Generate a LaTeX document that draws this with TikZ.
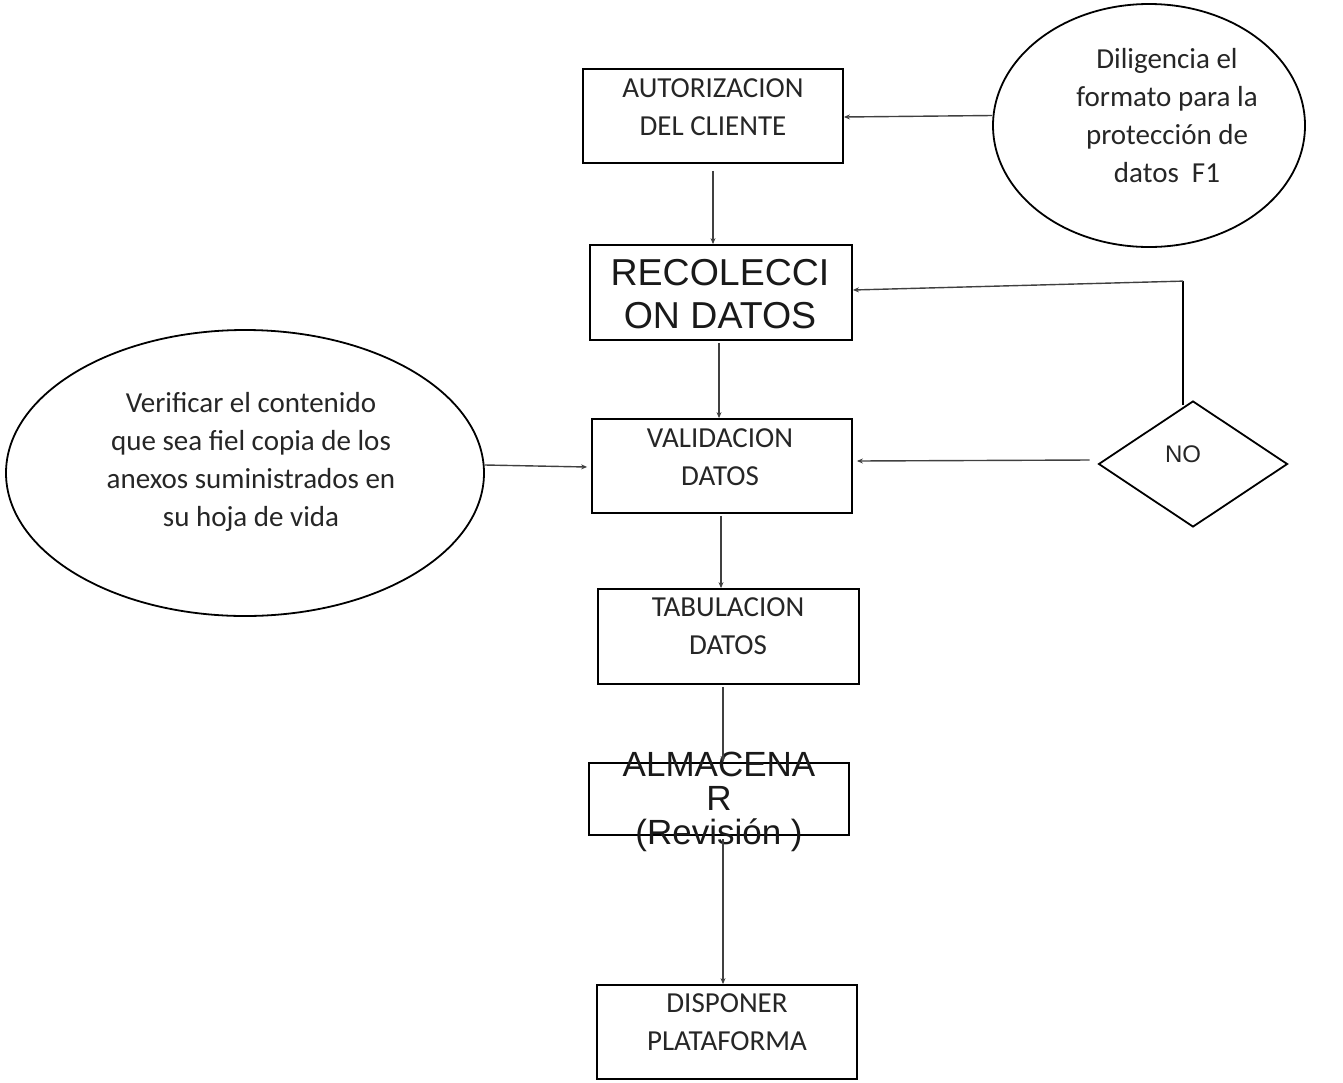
\documentclass[tikz,border=0pt]{standalone}
\usepackage{fontspec}
\setmainfont{Carlito}
\newfontfamily\arialf{Liberation Sans}
\usetikzlibrary{shapes.geometric,arrows.meta}
\begin{document}
\begin{tikzpicture}[x=1pt,y=-1pt,
  box/.style={draw, line width=1.8pt, rectangle, minimum width=260pt, minimum height=94pt, inner sep=0pt},
  lbl/.style={font=\fontsize{29}{38}\selectfont, align=center, inner sep=0pt, text=black!85},
  big/.style={font=\arialf\fontsize{37.5}{43}\selectfont, align=center, inner sep=0pt, text=black!90},
  mid/.style={font=\arialf\fontsize{35}{34}\selectfont, align=center, inner sep=0pt, text=black!90},
  con/.style={draw=black!75, line width=1.4pt, -{Stealth[length=6pt,width=5pt]}},
  oval/.style={draw, ellipse, line width=1.8pt, inner sep=0pt},
  dia/.style={draw, diamond, line width=1.8pt, inner sep=0pt}]
\useasboundingbox (0,0) rectangle (1343,1082);

% boxes
\node[box] (aut) at (713,116) {};
\node[box, minimum width=262pt, minimum height=95pt] (rec) at (721,292.5) {};
\node[box] (val) at (722,466) {};
\node[box, minimum width=261pt, minimum height=95pt] (tab) at (728.5,636.5) {};
\node[box, minimum height=72pt] (alm) at (719,799) {};
\node[box] (dis) at (727,1032) {};

% ovals and decision
\node[oval, minimum width=312pt, minimum height=243pt] (el1) at (1149,125.5) {};
\node[oval, minimum width=478pt, minimum height=286pt] (el2) at (245,473) {};
\node[dia, minimum width=189pt, minimum height=126pt] (no) at (1193,464) {};

% texts
\node[lbl] (tAut) at (713,107) {AUTORIZACION\\DEL CLIENTE};
\node[big] (tRec) at (720,294) {RECOLECCI\\ON DATOS};
\node[lbl] (tVal) at (720,457) {VALIDACION\\DATOS};
\node[lbl] (tTab) at (728,626) {TABULACION\\DATOS};
\node[mid] (tAlm) at (719,802) {ALMACENA\\R\\(Revisión )};
\node[lbl] (tDis) at (727,1022) {DISPONER\\PLATAFORMA};
\node[lbl] (tEl1) at (1167,116) {Diligencia el\\formato para la\\protección de\\datos~ F1};
\node[lbl] (tEl2) at (251,462) {Verificar el contenido\\que sea fiel copia de los\\anexos suministrados en\\su hoja de vida};
\node[font=\arialf\fontsize{24}{28}\selectfont, inner sep=0pt, text=black!85] (tNo) at (1183,454) {NO};

% connectors
\draw[con] ([yshift=10pt]el1.west) -- ([yshift=-1pt]aut.east);
\draw[con] ([yshift=-7pt]aut.south) -- (aut.south |- rec.north);
\draw[con] ([xshift=-2pt,yshift=-2pt]rec.south) -- ([xshift=-2pt]rec.south |- val.north);
\draw[con] ([yshift=8pt]el2.east) -- ([xshift=-4pt,yshift=-1pt]val.west);
\draw[con] ([xshift=-8pt,yshift=4pt]no.west) -- ([xshift=4pt,yshift=5pt]val.east);
\draw[line width=2.2pt] ([xshift=-10pt,yshift=-5pt]no.north) -- ++(0,-124) coordinate (nc);
\draw[con] (nc) -- ([yshift=2.5pt]rec.east);
\draw[con] ([xshift=-1pt,yshift=-2pt]val.south) -- ([xshift=-1pt]val.south |- tab.north);
\draw[con] ([xshift=-5.5pt,yshift=-2pt]tab.south) -- ([xshift=-5.5pt]tab.south |- alm.north);
\draw[con] ([xshift=4pt,yshift=-3pt]alm.south) -- ([xshift=4pt]alm.south |- dis.north);
\end{tikzpicture}
\end{document}
